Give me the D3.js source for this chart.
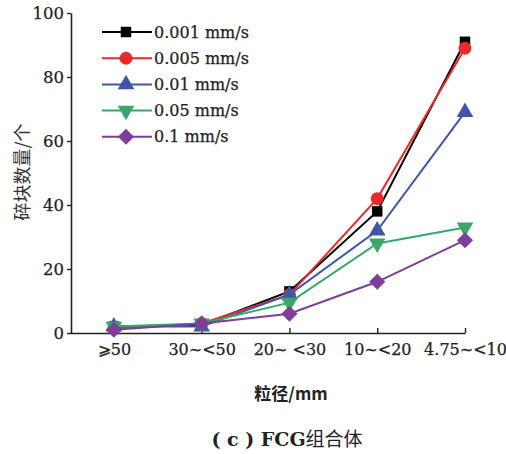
<!DOCTYPE html>
<html><head><meta charset="utf-8">
<script src="https://cdn.jsdelivr.net/npm/d3@7"></script>
<style>body{margin:0;background:#fff}svg{display:block}</style>
</head><body>
<svg id="c" width="506" height="454"></svg>
<script>
const categories = ["⩾50", "30~<50", "20~ <30", "10~<20", "4.75~<10"];
const seriesNames = ["0.001 mm/s", "0.005 mm/s", "0.01 mm/s", "0.05 mm/s", "0.1 mm/s"];
const s0001 = [2, 2.5, 13, 38, 91];
const s0005 = [1.5, 3, 12, 42, 89];
const s001 = [2, 2, 12, 32, 69];
const s005 = [2, 3, 9.5, 28, 33];
const s01 = [1, 3, 6, 16, 29];
const yTicks = [0, 20, 40, 60, 80, 100];

const seriesValues = [s0001, s0005, s001, s005, s01];
const colors = ["#000000", "#ea2a2a", "#3f56a8", "#3aa66c", "#7d3f98"];
const symbols = [d3.symbolSquare, d3.symbolCircle, d3.symbolTriangle, d3.symbolTriangle, d3.symbolSquare];
const rotations = [0, 0, 0, 180, 45];
const symSizes = [110, 130, 120, 120, 130];

const svg = d3.select("#c");
const serif = "'DejaVu Serif', serif";
const cjk = "'Noto Sans CJK SC', sans-serif";

const x = d3.scaleLinear().domain([-0.5, 4]).range([70, 465]);
const y = d3.scaleLinear().domain([0, 100]).range([333, 13]);

// axes
const xAxis = d3.axisBottom(x).tickValues(d3.range(categories.length))
  .tickFormat(i => categories[i]).tickSizeInner(-5).tickSizeOuter(0).tickPadding(11);
const gx = svg.append("g").attr("transform", "translate(0,333)").call(xAxis);
gx.select(".domain").attr("stroke", "#222").attr("stroke-width", 1.6);
gx.selectAll(".tick line").attr("stroke", "#222").attr("stroke-width", 1.4);
gx.selectAll(".tick text").attr("font-family", serif).attr("font-size", 16).attr("fill", "#222")
  .attr("stroke", "#222").attr("stroke-width", 0.25);

const yAxis = d3.axisLeft(y).tickValues(yTicks).tickSizeInner(4).tickSizeOuter(0).tickPadding(3);
const gy = svg.append("g").attr("transform", "translate(71,0)").call(yAxis);
gy.select(".domain").attr("stroke", "#222").attr("stroke-width", 1.6);
gy.selectAll(".tick line").attr("stroke", "#222").attr("stroke-width", 1.4);
gy.selectAll(".tick text").attr("font-family", serif).attr("font-size", 16.5).attr("fill", "#222")
  .attr("stroke", "#222").attr("stroke-width", 0.25);

function symPath(k) { return d3.symbol(symbols[k], symSizes[k])(); }
function symTransform(k, px, py) { return `translate(${px},${py}) rotate(${rotations[k]})`; }

const line = d3.line().x((d, i) => x(i)).y(d => y(d));
seriesValues.forEach((vals, k) => {
  const g = svg.append("g");
  g.append("path").attr("d", line(vals)).attr("fill", "none")
    .attr("stroke", colors[k]).attr("stroke-width", 2);
  g.selectAll("path.m").data(vals).join("path").attr("class", "m")
    .attr("d", symPath(k))
    .attr("transform", (d, i) => symTransform(k, x(i), y(d)))
    .attr("fill", colors[k]);
});

// legend
const leg = svg.append("g");
seriesNames.forEach((name, k) => {
  const ly = 32 + k * 26.2;
  leg.append("line").attr("x1", 102).attr("x2", 152).attr("y1", ly).attr("y2", ly)
    .attr("stroke", colors[k]).attr("stroke-width", 2);
  leg.append("path").attr("d", symPath(k))
    .attr("transform", symTransform(k, 126, ly)).attr("fill", colors[k]);
  leg.append("text").attr("x", 154).attr("y", ly).attr("dy", "0.35em")
    .attr("font-family", serif).attr("font-size", 16).attr("fill", "#222")
    .attr("stroke", "#222").attr("stroke-width", 0.25).text(name);
});

// axis titles
svg.append("text").attr("transform", "translate(23,172) rotate(-90)")
  .attr("text-anchor", "middle").attr("dy", "0.35em")
  .attr("font-family", cjk).attr("font-size", 18).attr("fill", "#333").text("碎块数量/个");

svg.append("text").attr("x", 291).attr("y", 394).attr("text-anchor", "middle").attr("dy", "0.35em")
  .attr("font-family", cjk).attr("font-size", 17).attr("font-weight", "bold").attr("fill", "#222")
  .text("粒径/mm");

const cap = svg.append("text").attr("x", 287).attr("y", 439).attr("text-anchor", "middle").attr("dy", "0.35em")
  .attr("font-size", 19).attr("fill", "#222");
cap.append("tspan").attr("font-family", serif).attr("font-weight", "bold").text("( c ) FCG");
cap.append("tspan").attr("font-family", cjk).text("组合体");
</script>
</body></html>
